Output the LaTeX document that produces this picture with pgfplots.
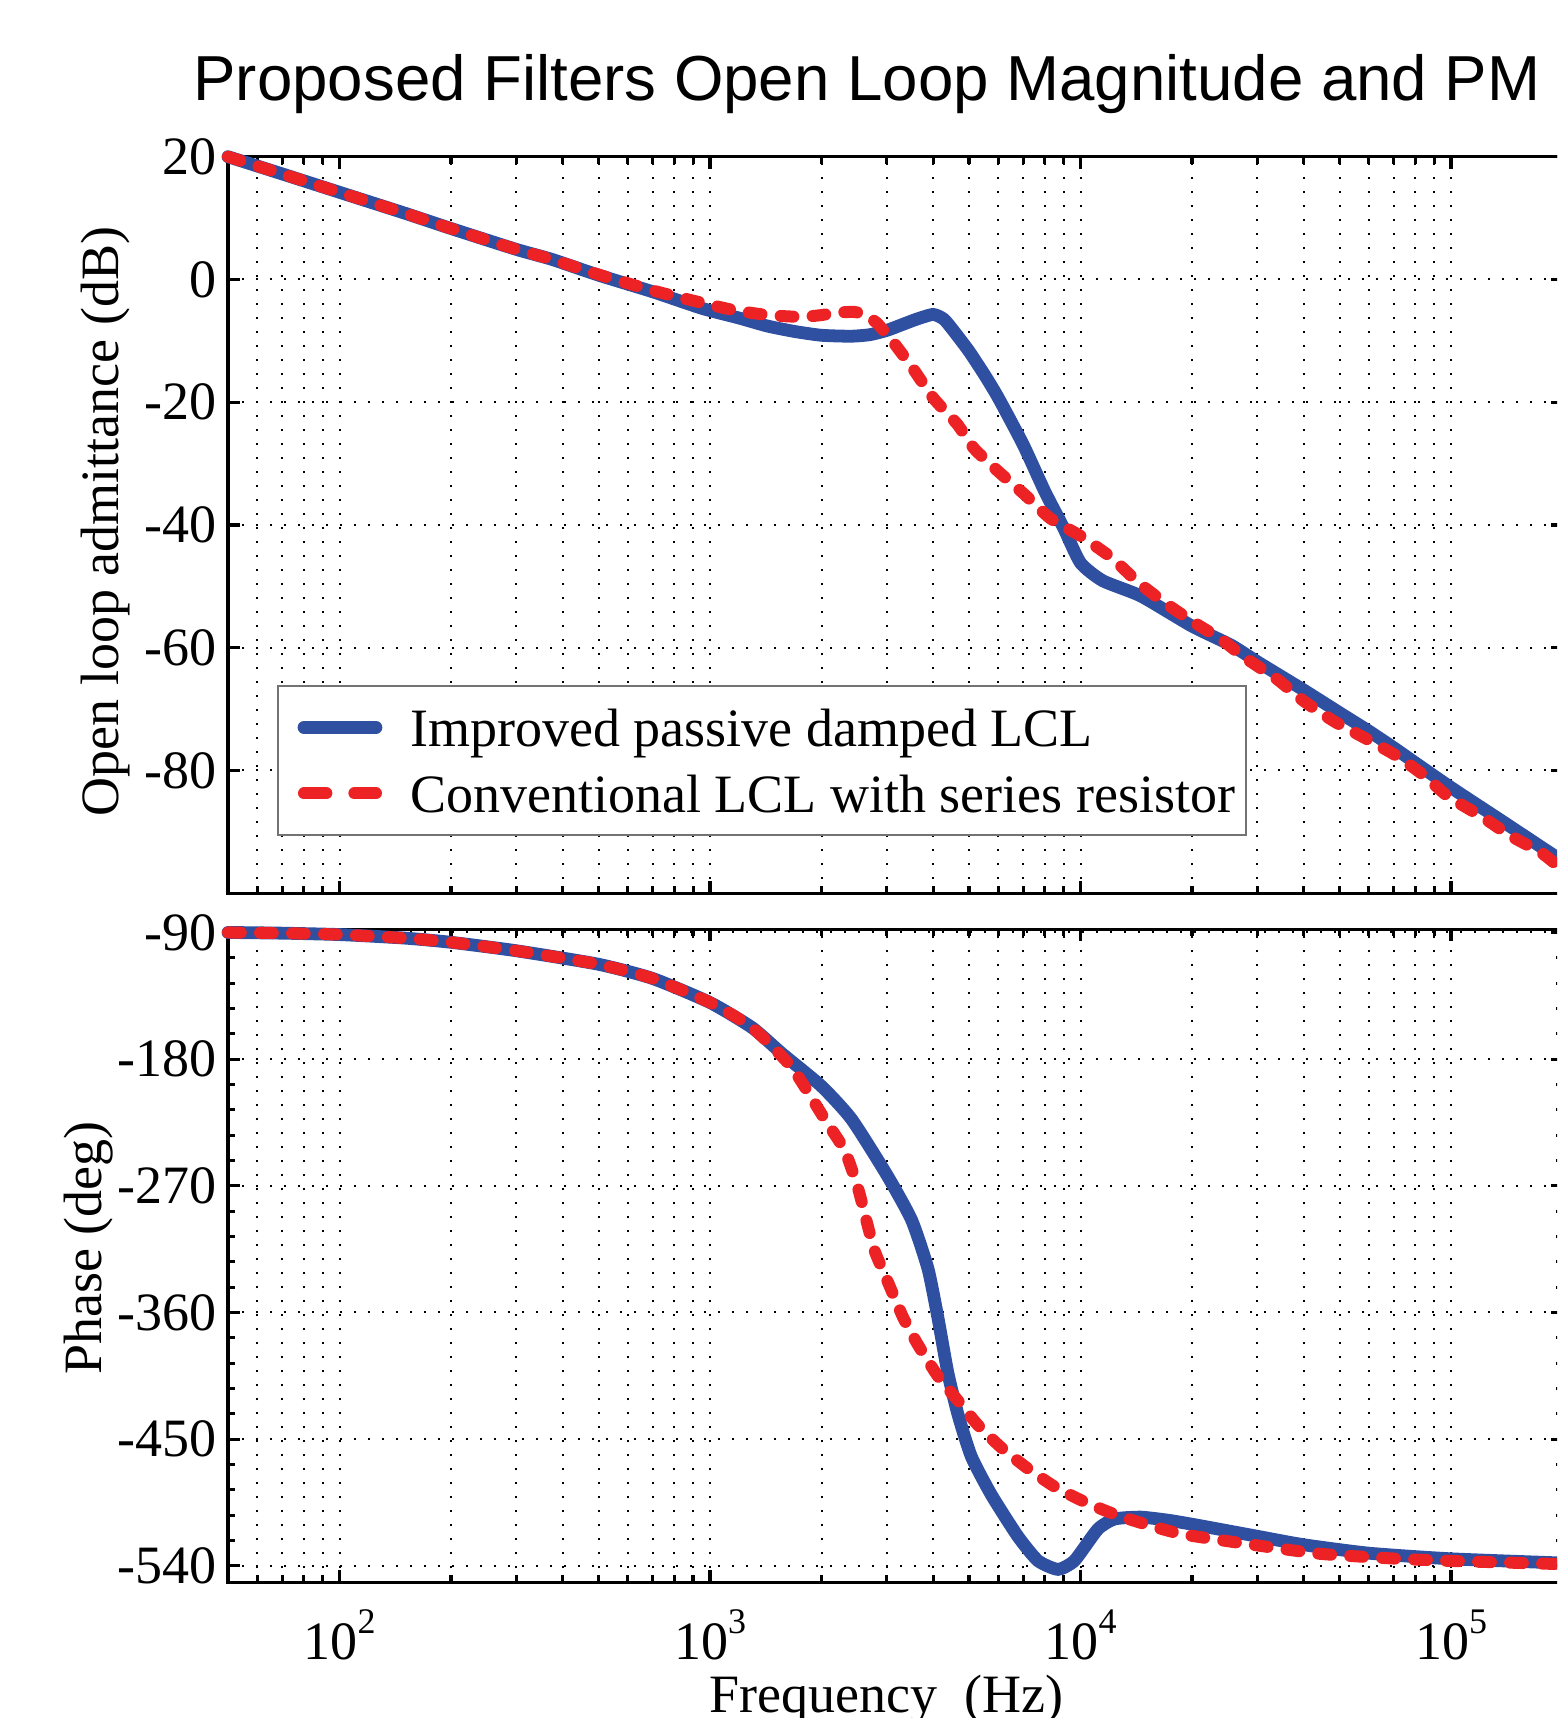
\documentclass[border=0pt]{standalone}
\usepackage{fontspec}
\setmainfont{Liberation Serif}
\newfontfamily\arialfont{Liberation Sans}
\usepackage{pgfplots}
\pgfplotsset{compat=1.18}
\pgfplotsset{legend image code/.code={\path (0pt,0pt); \draw[#1] (2.15pt,0pt) -- (20.15pt,0pt);}}

\definecolor{bluel}{RGB}{47,79,160}
\definecolor{redl}{RGB}{237,34,36}

\newcommand{\fs}{\fontsize{13.5}{16}\selectfont}
\newcommand{\decexp}[1]{10\raisebox{6.7pt}{\fontsize{9}{9}\selectfont #1}}

\begin{document}
\begin{tikzpicture}
\useasboundingbox (-57pt,39.175pt) rectangle (332.25pt,-390.325pt);
\clip (-57pt,39.175pt) rectangle (332.25pt,-390.325pt);

\begin{axis}[name=mag, at={(0,0)}, anchor=north west,
  scale only axis, width=333.65pt, height=184.1pt,
  xmode=log, xmin=50, xmax=2e5,
  xtick={100,1000,10000,100000},
  minor xtick={60,70,80,90,200,300,400,500,600,700,800,900,
    2000,3000,4000,5000,6000,7000,8000,9000,
    20000,30000,40000,50000,60000,70000,80000,90000,200000},
  tick align=inside, major tick length=3pt, minor tick length=1.75pt,
  every tick/.style={black, line width=0.8pt},
  axis line style={line width=0.8pt},
  xmajorgrids, xminorgrids, ymajorgrids,
  grid style={black, line width=0.5pt, dash pattern=on 0.5pt off 3pt},
  minor grid style={black, line width=0.5pt, dash pattern=on 0.5pt off 3pt},
  tick label style={font=\fs},
  label style={font=\fs},
  yticklabel style={anchor=east, inner sep=0pt, xshift=-2.75pt},
  clip=false,
  ymin=-100, ymax=20,
  ytick={-80,-60,-40,-20,0,20}, yticklabels={-80,-60,-40,-20,0,20},
  xticklabels={},
  ylabel={Open loop admittance (dB)},
  ylabel style={at={(axis description cs:-0.0824,0.5046)}, anchor=base},
  title={Proposed Filters Open Loop Magnitude and PM},
  title style={at={(axis description cs:0.4788,1.0444)}, anchor=base, font=\arialfont\fontsize{15.9}{18}\selectfont},
  legend style={at={(axis description cs:0.0367,0.2826)}, anchor=north west,
    draw=black!55, line width=0.5pt, fill=white, font=\fs,
    inner xsep=2.75pt, inner ysep=2.8pt, row sep=1.4pt, column sep=7pt,
    nodes={inner sep=0pt, text height=12.2pt, text depth=2.9pt}},
  legend cell align=left,
]
\addplot[bluel, line width=3.2pt, line cap=round, smooth, tension=0.35] table {
50 20
70 17.2
100 14.2
150 10.8
200 8.3
300 4.9
373 3.3
500 0.7
700 -2.0
950 -4.7
1200 -6.3
1430 -7.6
1700 -8.5
2000 -9.1
2400 -9.25
2700 -9.0
3000 -8.3
3270 -7.45
3600 -6.5
4000 -5.7
4280 -6.5
4600 -8.8
5000 -11.7
5500 -15.5
6000 -19.3
7000 -26.9
8000 -34.5
9000 -40.5
10000 -46.2
11480 -49.1
14560 -51.6
20000 -56.5
25500 -59.6
30000 -62.3
40000 -66.9
50000 -70.6
60000 -73.6
70000 -76.3
80000 -78.75
100000 -82.8
140000 -88.6
200000 -94.8
};
\addlegendentry{Improved passive damped LCL}
\addplot[redl, line width=3pt, line cap=round, dash pattern=on 3.2pt off 4.8pt, smooth, tension=0.35,
  legend image post style={dash pattern=on 5.6pt off 7pt}] table {
50 20
70 17.2
100 14.2
150 10.8
200 8.3
300 4.9
373 3.3
500 0.8
700 -1.8
950 -3.8
1160 -5.0
1430 -5.8
1760 -6.1
2000 -5.8
2180 -5.4
2450 -5.3
2600 -5.7
2820 -7.1
3130 -10.3
3545 -14.7
4000 -19.3
4650 -23.6
5150 -27.5
6000 -31.3
7080 -35.1
8270 -38.9
10000 -41.8
12100 -45.3
14330 -49.4
16900 -52.7
20000 -55.7
23900 -58.6
27700 -61.6
34000 -65.2
40000 -68.7
48300 -72
58400 -74.7
71600 -77.7
84800 -80.9
97900 -84.2
120000 -87.4
145000 -90.7
175000 -93.4
200000 -96.2
};
\addlegendentry{Conventional LCL with series resistor}
\end{axis}

\begin{axis}[at={(0,-193.125pt)}, anchor=north west,
  scale only axis, width=333.65pt, height=163.275pt,
  xmode=log, xmin=50, xmax=2e5,
  xtick={100,1000,10000,100000},
  minor xtick={60,70,80,90,200,300,400,500,600,700,800,900,
    2000,3000,4000,5000,6000,7000,8000,9000,
    20000,30000,40000,50000,60000,70000,80000,90000,200000},
  tick align=inside, major tick length=3pt, minor tick length=1.75pt,
  every tick/.style={black, line width=0.8pt},
  axis line style={line width=0.8pt},
  xmajorgrids, xminorgrids, ymajorgrids,
  grid style={black, line width=0.5pt, dash pattern=on 0.5pt off 3pt},
  minor grid style={black, line width=0.5pt, dash pattern=on 0.5pt off 3pt},
  tick label style={font=\fs},
  label style={font=\fs},
  yticklabel style={anchor=east, inner sep=0pt, xshift=-2.75pt},
  clip=false,
  ymin=-551.7, ymax=-87.7,
  ytick={-540,-450,-360,-270,-180,-90},
  yticklabels={-540,-450,-360,-270,-180,-90},
  minor ytick={-522,-504,-486,-468,-432,-414,-396,-378,-342,-324,-306,-288,
    -252,-234,-216,-198,-162,-144,-126,-108},
  xticklabels={\decexp{2},\decexp{3},\decexp{4},\decexp{5}},
  xticklabel style={anchor=base, yshift=-19.4pt},
  xlabel={Frequency\ \ (Hz)},
  xlabel style={at={(axis description cs:0.4935,-0.1986)}, anchor=base},
  ylabel={Phase (deg)},
  ylabel style={at={(axis description cs:-0.0946,0.5118)}, anchor=base},
]
\addplot[bluel, line width=3.2pt, line cap=round, smooth, tension=0.35] table {
50 -90
70 -90.5
100 -91.5
150 -94
200 -97
300 -103
500 -112.6
700 -122.7
1000 -139.8
1300 -157.7
1560 -175.8
2000 -199.3
2410 -222.7
3000 -262.2
3500 -294.3
3875 -328.9
4120 -363.5
4385 -403
4670 -432.6
5070 -462.2
5740 -489.4
6770 -519
7670 -536.3
8690 -542.5
9630 -536.3
11130 -514
12360 -506.7
14580 -505.4
17550 -507.9
21150 -511.6
30000 -519
40000 -525
60000 -531
100000 -535
200000 -538
};
\addplot[redl, line width=3pt, line cap=round, dash pattern=on 3.2pt off 4.8pt, smooth, tension=0.35] table {
50 -90
70 -90.5
100 -91.5
150 -94
200 -97
300 -103
500 -112.6
700 -122.7
1000 -139.8
1300 -157.7
1660 -185.7
2040 -222.7
2310 -245
2510 -272
2640 -294.3
2785 -316.6
3025 -338.8
3320 -363.5
3645 -383.2
4125 -405.4
4670 -422.7
5285 -440
6110 -456
7210 -470.9
8590 -484.4
10460 -495.6
12600 -504.2
15500 -511.6
19070 -517.8
30000 -525.5
44500 -531.5
70000 -534.8
100000 -536.5
200000 -538.8
};
\end{axis}
\end{tikzpicture}
\end{document}
